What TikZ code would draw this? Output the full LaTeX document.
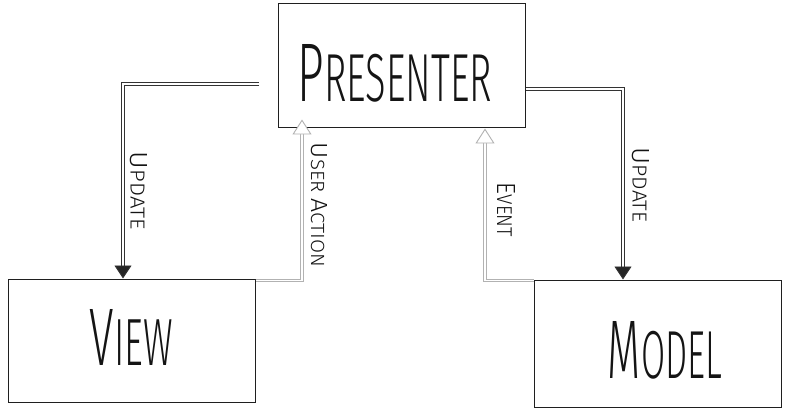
\documentclass[tikz,border=0pt]{standalone}
\usepackage{fontspec}
\usepackage{graphicx}
\newfontfamily\hand{Fira Sans Light}
\usetikzlibrary{arrows.meta}
\newcommand\amt[3]{\resizebox{#1}{#2}{\hand #3}}
\newcommand\BL[1]{{\fontsize{12}{12}\selectfont #1}}
\newcommand\SL[1]{{\fontsize{9.8}{9.8}\selectfont #1}}
\begin{document}
\begin{tikzpicture}[x=1pt,y=-1pt,
  box/.style={draw=black!88, line width=1pt, rectangle, inner sep=0pt, minimum width=247pt, fill=white},
  lbl/.style={inner sep=0pt, text=black!92},
  blk/.style={draw=black!80, line width=0.9pt, double=white, double distance=1.6pt,
    -{Triangle[width=17pt,length=13pt,fill=black!85]}},
  gry/.style={draw=black!30, line width=0.9pt, double=white, double distance=1.6pt,
    -{Triangle[open,width=19pt,length=15pt,fill=white]}}
]
\useasboundingbox (0,0) rectangle (785,409);
\fill[white] (0,0) rectangle (785,409);
% boxes
\node[box, minimum height=124pt] (presenter) at (401.5,66) {};
\node[box, minimum height=123pt] (view) at (131.5,340.5) {};
\node[box, minimum height=127pt] (model) at (657.5,343.5) {};
% box texts
\node[lbl] (presenter-t) at (395,73.5) {\amt{194pt}{57pt}{\BL{P}\SL{RESENTER}}};
\node[lbl] (view-t) at (131.5,337) {\amt{83pt}{56pt}{\BL{V}\SL{IEW}}};
\node[lbl] (model-t) at (665,350) {\amt{114pt}{57pt}{\BL{M}\SL{ODEL}}};
% connectors
\coordinate (lu) at (259,84);
\draw[blk] (lu) -| ([xshift=-8.5pt]view.north);
\draw[blk] ([yshift=-23pt]presenter.east) -| ([xshift=-34.5pt]model.north);
\draw[gry] ([yshift=-2pt]view.north east) -| ([xshift=-99.5pt,yshift=9pt]presenter.south);
\draw[gry] ([yshift=-1pt]model.north west) -| ([xshift=83.5pt]presenter.south);
% connector labels
\node[lbl, rotate=-90] (upd-l) at (139,191) {\amt{78pt}{17pt}{\BL{U}\SL{PDATE}}};
\node[lbl, rotate=-90] (upd-r) at (641,185) {\amt{75pt}{17pt}{\BL{U}\SL{PDATE}}};
\node[lbl, rotate=-90] (ua) at (319,205) {\amt{124pt}{16pt}{\BL{U}\SL{SER} \BL{A}\SL{CTION}}};
\node[lbl, rotate=-90] (ev) at (506,210) {\amt{54pt}{18pt}{\BL{E}\SL{VENT}}};
\end{tikzpicture}
\end{document}
